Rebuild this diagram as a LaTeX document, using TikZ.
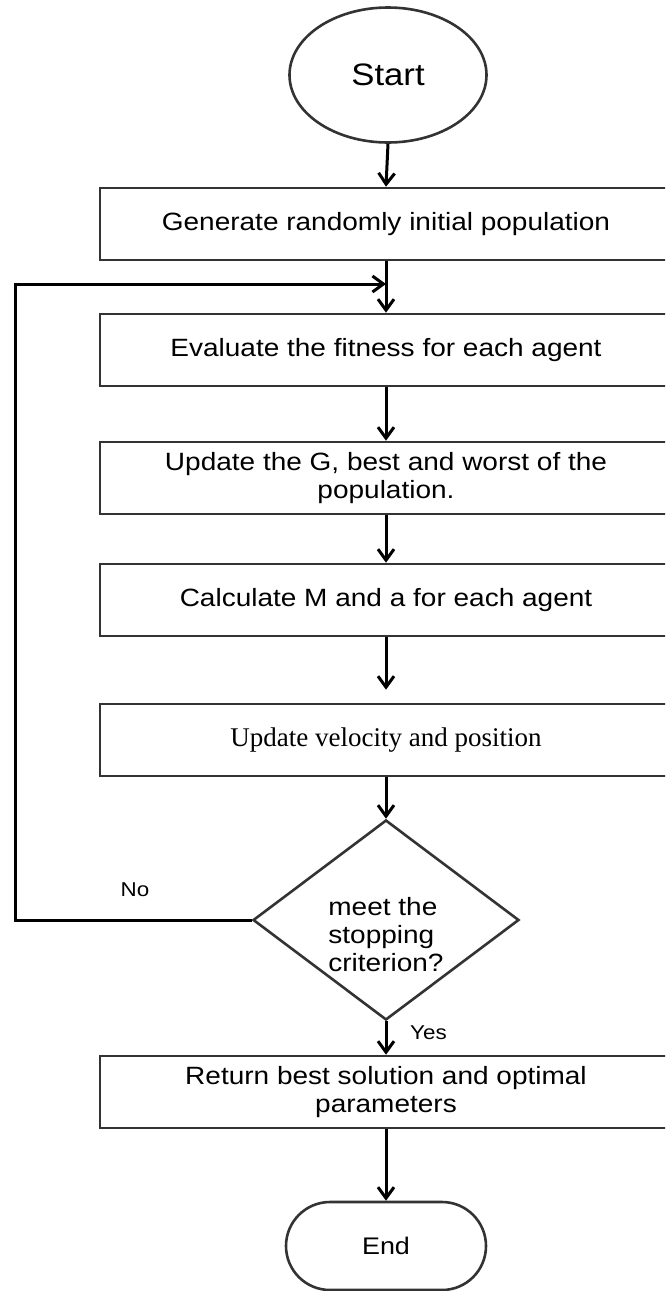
\documentclass[tikz,border=0pt]{standalone}
\usepackage{fontspec}
\setmainfont{Liberation Sans}[FakeStretch=1.12]
\newfontfamily\timesface{Liberation Serif}
\usetikzlibrary{arrows.meta,shapes.geometric}

\definecolor{edgegray}{HTML}{333333}

\begin{document}
\begin{tikzpicture}[x=1pt,y=-1pt,
  stepbox/.style={draw=edgegray, line width=2.6pt, minimum width=572pt,
    minimum height=72pt, inner sep=0pt, align=center,
    font=\fontsize{25}{28.5}\selectfont},
  flow/.style={draw=black, line width=3pt,
    -{Straight Barb[length=11pt,width=16pt,line width=3pt]}},
  lbl/.style={font=\fontsize{20}{24}\selectfont, inner sep=0pt}
]
\useasboundingbox (0,0) rectangle (665,1291);
\clip (0,0) rectangle (665,1291);

% terminals
\node[ellipse, draw=edgegray, line width=2.6pt, minimum width=197pt,
  minimum height=135pt, inner sep=0pt, font=\fontsize{31}{36}\selectfont]
  (start) at (388,75) {Start};
\node[rectangle, rounded corners=44pt, draw=edgegray, line width=2.6pt,
  minimum width=200pt, minimum height=88pt, inner sep=0pt,
  font=\fontsize{24}{28}\selectfont] (end) at (386,1246) {End};

% process steps
\node[stepbox] (init) at (386,224) {Generate randomly initial population};
\node[stepbox] (eval) at (386,350) {Evaluate the fitness for each agent};
\node[stepbox] (upg)  at (386,478) {Update the G, best and worst of the\\population.};
\node[stepbox] (calc) at (386,600) {Calculate M and a for each agent};
\node[stepbox, font=\timesface\fontsize{27}{30}\selectfont] (vel) at (386,740) {Update velocity and position};
\node[stepbox] (ret)  at (386,1092) {Return best solution and optimal\\parameters};

% decision
\node[diamond, draw=edgegray, line width=2.6pt, minimum width=266pt,
  minimum height=200pt, inner sep=0pt] (stop) at (386,920) {};
\node[align=left, inner sep=0pt, font=\fontsize{25}{28}\selectfont]
  (stoptext) at (386,935) {meet the\\stopping\\criterion?};

% loop-back junction and corner points
\coordinate (join) at (386,284);
\coordinate (cornerlow) at (15,920);
\coordinate (cornerhigh) at (15,284);

% connectors
\draw[flow] (start.south) -- (init.north);
\draw[flow] (init.south) -- (eval.north);
\draw[flow] (eval.south) -- (upg.north);
\draw[flow] (upg.south) -- (calc.north);
\draw[flow, shorten >=13pt] (calc.south) -- (vel.north);
\draw[flow] (vel.south) -- (stop.north);
\draw[flow] (stop.south) -- (ret.north);
\draw[flow] (ret.south) -- (end.north);
\draw[flow] (stop.west) -- (cornerlow) -- (cornerhigh) -- (join);

% branch labels
\node[lbl] (no) at (135,890) {No};
\node[lbl, anchor=west] (yes) at (410,1033) {Yes};
\end{tikzpicture}
\end{document}
